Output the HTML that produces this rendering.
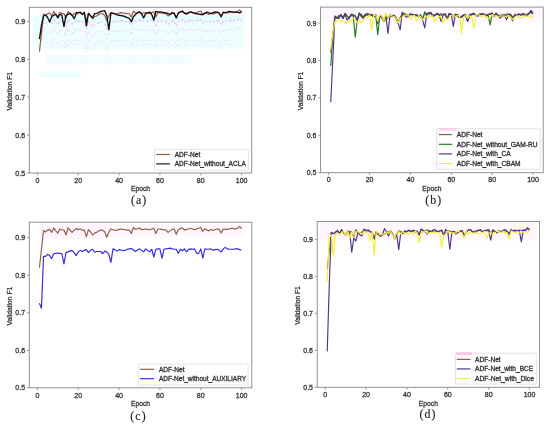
<!DOCTYPE html>
<html><head><meta charset="utf-8"><style>
html,body{margin:0;padding:0;background:#fff;}
body{width:550px;height:427px;overflow:hidden;}
svg{display:block;will-change:transform;filter:blur(0.35px);}
.tk{font-family:"Liberation Sans", sans-serif;font-size:7px;fill:#333333;stroke:#333;stroke-width:0.28px;}
.lb{font-family:"Liberation Sans", sans-serif;font-size:6.75px;fill:#333333;stroke:#333;stroke-width:0.26px;}
.lg{font-family:"Liberation Sans", sans-serif;font-size:6.6px;fill:#333333;stroke:#333;stroke-width:0.3px;}
.cap{font-family:"Liberation Serif", serif;font-size:11.8px;fill:#222;letter-spacing:1.1px;stroke:#222;stroke-width:0.15px;}
</style></head><body>
<svg width="550" height="427" viewBox="0 0 550 427">
<rect width="550" height="427" fill="#fff"/>
<clipPath id="clipa"><rect x="29.3" y="7.3" width="222.4" height="165.7"/></clipPath>
<g>
<rect x="40" y="9" width="205" height="7" fill="#ff00ff" fill-opacity="0.04"/>
<rect x="33" y="16" width="212" height="6" fill="#b8ffff" fill-opacity="0.4"/>
<rect x="33" y="22" width="212" height="27" fill="#c8ffff" fill-opacity="0.3"/>
<rect x="46" y="55" width="146" height="9" fill="#d0ffff" fill-opacity="0.25"/>
<rect x="40" y="71" width="41" height="7" fill="#c8ffff" fill-opacity="0.3"/>
<polyline points="41.48,40.88 43.53,22.29 45.57,23.81 47.61,21.92 49.65,21.16 51.69,24.19 53.74,19.64 55.78,22.67 57.82,24.95 59.86,20.78 61.9,21.54 63.95,21.92 65.99,26.85 68.03,19.64 70.07,21.92 72.11,24.19 74.16,21.92 76.2,20.4 78.24,21.16 80.28,20.78 82.32,21.92 84.37,21.92 86.41,28.74 88.45,21.54 90.49,23.81 92.53,26.85 94.58,24.95 96.62,24.19 98.66,22.67 100.7,21.92 102.74,21.92 104.79,23.81 106.83,29.12 108.87,23.81 110.91,20.78 112.95,21.54 115,22.29 117.04,21.92 119.08,21.16 121.12,20.78 123.16,21.16 125.21,21.54 127.25,21.92 129.29,21.92 131.33,25.33 133.37,19.26 135.42,21.16 137.46,20.78 139.5,19.64 141.54,21.54 143.58,21.16 145.63,20.78 147.67,21.16 149.71,21.54 151.75,20.78 153.79,20.02 155.84,25.33 157.88,20.78 159.92,20.78 161.96,21.16 164,21.54 166.05,21.92 168.09,24.19 170.13,22.67 172.17,21.16 174.21,20.78 176.26,26.09 178.3,21.54 180.34,20.4 182.38,19.64 184.42,21.92 186.47,21.16 188.51,20.78 190.55,20.02 192.59,20.78 194.63,21.54 196.68,20.78 198.72,20.02 200.76,19.26 202.8,23.05 204.84,20.78 206.89,21.92 208.93,22.67 210.97,21.16 213.01,22.29 215.05,21.54 217.1,20.78 219.14,21.16 221.18,24.95 223.22,20.78 225.26,21.16 227.31,21.16 229.35,20.78 231.39,20.02 233.43,20.4 235.47,20.78 237.52,20.02 239.56,18.12 241.6,20.4" fill="none" stroke="#ff6cf0" stroke-opacity="0.45" stroke-width="1.3" stroke-dasharray="3 1.5 2 2"/>
<polyline points="49.65,30.46 51.69,33.49 53.74,28.94 55.78,31.97 57.82,34.25 59.86,30.08 61.9,30.84 63.95,31.22 65.99,36.15 68.03,28.94 70.07,31.22 72.11,33.49 74.16,31.22 76.2,29.7 78.24,30.46 80.28,30.08 82.32,31.22 84.37,31.22 86.41,38.04 88.45,30.84 90.49,33.11 92.53,36.15 94.58,34.25 96.62,33.49 98.66,31.97 100.7,31.22 102.74,31.22 104.79,33.11 106.83,38.42 108.87,33.11 110.91,30.08 112.95,30.84 115,31.59 117.04,31.22 119.08,30.46 121.12,30.08 123.16,30.46 125.21,30.84 127.25,31.22 129.29,31.22 131.33,34.63 133.37,28.56 135.42,30.46 137.46,30.08 139.5,28.94 141.54,30.84 143.58,30.46 145.63,30.08 147.67,30.46 149.71,30.84 151.75,30.08 153.79,29.32 155.84,34.63 157.88,30.08 159.92,30.08 161.96,30.46 164,30.84 166.05,31.22 168.09,33.49 170.13,31.97 172.17,30.46 174.21,30.08 176.26,35.39 178.3,30.84 180.34,29.7 182.38,28.94 184.42,31.22 186.47,30.46 188.51,30.08 190.55,29.32 192.59,30.08 194.63,30.84 196.68,30.08 198.72,29.32 200.76,28.56 202.8,32.35 204.84,30.08 206.89,31.22 208.93,31.97 210.97,30.46 213.01,31.59 215.05,30.84 217.1,30.08 219.14,30.46 221.18,34.25 223.22,30.08 225.26,30.46 227.31,30.46 229.35,30.08 231.39,29.32 233.43,29.7 235.47,30.08 237.52,29.32 239.56,27.42 241.6,29.7" fill="none" stroke="#ff80f0" stroke-opacity="0.35" stroke-width="1.1" stroke-dasharray="3 1.5 2 2"/>
<polyline points="45.57,43.11 47.61,41.22 49.65,40.46 51.69,43.49 53.74,38.94 55.78,41.97 57.82,44.25 59.86,40.08 61.9,40.84 63.95,41.22 65.99,46.15 68.03,38.94 70.07,41.22 72.11,43.49 74.16,41.22 76.2,39.7 78.24,40.46 80.28,40.08 82.32,41.22 84.37,41.22 86.41,48.04 88.45,40.84 90.49,43.11 92.53,46.15 94.58,44.25 96.62,43.49 98.66,41.97 100.7,41.22 102.74,41.22 104.79,43.11 106.83,48.42 108.87,43.11 110.91,40.08 112.95,40.84 115,41.59 117.04,41.22 119.08,40.46 121.12,40.08 123.16,40.46 125.21,40.84 127.25,41.22 129.29,41.22 131.33,44.63 133.37,38.56 135.42,40.46 137.46,40.08 139.5,38.94 141.54,40.84 143.58,40.46 145.63,40.08 147.67,40.46 149.71,40.84 151.75,40.08 153.79,39.32 155.84,44.63 157.88,40.08 159.92,40.08 161.96,40.46 164,40.84 166.05,41.22 168.09,43.49 170.13,41.97 172.17,40.46 174.21,40.08 176.26,45.39 178.3,40.84 180.34,39.7 182.38,38.94 184.42,41.22 186.47,40.46 188.51,40.08 190.55,39.32 192.59,40.08 194.63,40.84 196.68,40.08 198.72,39.32 200.76,38.56 202.8,42.35 204.84,40.08 206.89,41.22 208.93,41.97 210.97,40.46 213.01,41.59 215.05,40.84 217.1,40.08 219.14,40.46 221.18,44.25 223.22,40.08 225.26,40.46 227.31,40.46 229.35,40.08 231.39,39.32 233.43,39.7 235.47,40.08 237.52,39.32" fill="none" stroke="#ff8cff" stroke-opacity="0.28" stroke-width="1.1" stroke-dasharray="3 1.5 2 2"/>
<polyline points="45.57,47.61 47.61,45.72 49.65,44.96 51.69,47.99 53.74,43.44 55.78,46.47 57.82,48.75 59.86,44.58 61.9,45.34 63.95,45.72 65.99,50.65 68.03,43.44 70.07,45.72 72.11,47.99 74.16,45.72 76.2,44.2 78.24,44.96 80.28,44.58 82.32,45.72 84.37,45.72 86.41,52.54 88.45,45.34 90.49,47.61 92.53,50.65 94.58,48.75 96.62,47.99 98.66,46.47 100.7,45.72 102.74,45.72 104.79,47.61 106.83,52.92 108.87,47.61 110.91,44.58 112.95,45.34 115,46.09 117.04,45.72 119.08,44.96 121.12,44.58 123.16,44.96 125.21,45.34 127.25,45.72 129.29,45.72 131.33,49.13 133.37,43.06 135.42,44.96 137.46,44.58 139.5,43.44 141.54,45.34 143.58,44.96 145.63,44.58 147.67,44.96 149.71,45.34 151.75,44.58 153.79,43.82 155.84,49.13 157.88,44.58 159.92,44.58 161.96,44.96 164,45.34 166.05,45.72 168.09,47.99 170.13,46.47 172.17,44.96 174.21,44.58 176.26,49.89 178.3,45.34 180.34,44.2 182.38,43.44 184.42,45.72 186.47,44.96 188.51,44.58 190.55,43.82 192.59,44.58 194.63,45.34 196.68,44.58 198.72,43.82 200.76,43.06 202.8,46.85 204.84,44.58 206.89,45.72 208.93,46.47 210.97,44.96 213.01,46.09 215.05,45.34 217.1,44.58 219.14,44.96 221.18,48.75 223.22,44.58 225.26,44.96 227.31,44.96 229.35,44.58 231.39,43.82 233.43,44.2 235.47,44.58 237.52,43.82" fill="none" stroke="#ff9cff" stroke-opacity="0.2" stroke-width="1.0" stroke-dasharray="3 1.5 2 2"/>
<polyline points="47.61,59.22 49.65,58.46 51.69,61.49 53.74,56.94 55.78,59.97 57.82,62.25 59.86,58.08 61.9,58.84 63.95,59.22 65.99,64.15 68.03,56.94 70.07,59.22 72.11,61.49 74.16,59.22 76.2,57.7 78.24,58.46 80.28,58.08 82.32,59.22 84.37,59.22 86.41,66.04 88.45,58.84 90.49,61.11 92.53,64.15 94.58,62.25 96.62,61.49 98.66,59.97 100.7,59.22 102.74,59.22 104.79,61.11 106.83,66.42 108.87,61.11 110.91,58.08 112.95,58.84 115,59.59 117.04,59.22 119.08,58.46 121.12,58.08 123.16,58.46 125.21,58.84 127.25,59.22 129.29,59.22 131.33,62.63 133.37,56.56 135.42,58.46 137.46,58.08 139.5,56.94 141.54,58.84 143.58,58.46 145.63,58.08 147.67,58.46 149.71,58.84 151.75,58.08 153.79,57.32 155.84,62.63 157.88,58.08 159.92,58.08 161.96,58.46 164,58.84 166.05,59.22 168.09,61.49 170.13,59.97 172.17,58.46 174.21,58.08 176.26,63.39 178.3,58.84 180.34,57.7 182.38,56.94 184.42,59.22 186.47,58.46 188.51,58.08 190.55,57.32" fill="none" stroke="#ffa8ff" stroke-opacity="0.22" stroke-width="1.0" stroke-dasharray="3 1.5 2 2"/>
</g>
<polyline clip-path="url(#clipa)" points="39.44,51.64 41.48,32.68 43.53,14.09 45.57,15.61 47.61,13.72 49.65,12.96 51.69,15.99 53.74,11.44 55.78,14.47 57.82,16.75 59.86,12.58 61.9,13.34 63.95,13.72 65.99,18.65 68.03,11.44 70.07,13.72 72.11,15.99 74.16,13.72 76.2,12.2 78.24,12.96 80.28,12.58 82.32,13.72 84.37,13.72 86.41,20.54 88.45,13.34 90.49,15.61 92.53,18.65 94.58,16.75 96.62,15.99 98.66,14.47 100.7,13.72 102.74,13.72 104.79,15.61 106.83,20.92 108.87,15.61 110.91,12.58 112.95,13.34 115,14.09 117.04,13.72 119.08,12.96 121.12,12.58 123.16,12.96 125.21,13.34 127.25,13.72 129.29,13.72 131.33,17.13 133.37,11.06 135.42,12.96 137.46,12.58 139.5,11.44 141.54,13.34 143.58,12.96 145.63,12.58 147.67,12.96 149.71,13.34 151.75,12.58 153.79,11.82 155.84,17.13 157.88,12.58 159.92,12.58 161.96,12.96 164,13.34 166.05,13.72 168.09,15.99 170.13,14.47 172.17,12.96 174.21,12.58 176.26,17.89 178.3,13.34 180.34,12.2 182.38,11.44 184.42,13.72 186.47,12.96 188.51,12.58 190.55,11.82 192.59,12.58 194.63,13.34 196.68,12.58 198.72,11.82 200.76,11.06 202.8,14.85 204.84,12.58 206.89,13.72 208.93,14.47 210.97,12.96 213.01,14.09 215.05,13.34 217.1,12.58 219.14,12.96 221.18,16.75 223.22,12.58 225.26,12.96 227.31,12.96 229.35,12.58 231.39,11.82 233.43,12.2 235.47,12.58 237.52,11.82 239.56,9.92 241.6,12.2" fill="none" stroke="#8c5c3e" stroke-width="1.15" stroke-linejoin="round"/>
<polyline clip-path="url(#clipa)" points="39.44,39.12 41.48,25.09 43.53,15.99 45.57,14.85 47.61,17.51 49.65,22.06 51.69,16.75 53.74,15.23 55.78,14.47 57.82,17.89 59.86,14.47 61.9,15.23 63.95,26.61 65.99,15.23 68.03,14.47 70.07,13.34 72.11,15.23 74.16,18.65 76.2,13.72 78.24,12.58 80.28,12.2 82.32,14.47 84.37,12.2 86.41,25.85 88.45,13.34 90.49,15.61 92.53,17.89 94.58,13.72 96.62,13.34 98.66,12.58 100.7,11.44 102.74,11.06 104.79,10.68 106.83,15.99 108.87,29.64 110.91,12.96 112.95,13.34 115,13.72 117.04,14.85 119.08,15.23 121.12,15.61 123.16,15.99 125.21,16.75 127.25,17.51 129.29,18.27 131.33,21.68 133.37,16.75 135.42,14.47 137.46,12.96 139.5,12.2 141.54,13.72 143.58,17.89 145.63,13.72 147.67,12.96 149.71,12.2 151.75,14.47 153.79,20.16 155.84,11.44 157.88,11.82 159.92,11.82 161.96,12.2 164,12.58 166.05,12.96 168.09,13.72 170.13,14.47 172.17,12.58 174.21,13.72 176.26,17.89 178.3,12.96 180.34,11.82 182.38,11.06 184.42,12.96 186.47,14.09 188.51,12.96 190.55,11.82 192.59,12.58 194.63,13.34 196.68,13.72 198.72,14.09 200.76,14.47 202.8,14.47 204.84,13.34 206.89,12.2 208.93,12.96 210.97,13.72 213.01,12.58 215.05,11.82 217.1,12.2 219.14,12.96 221.18,16.75 223.22,12.2 225.26,12.58 227.31,12.2 229.35,11.44 231.39,11.82 233.43,12.2 235.47,11.82 237.52,12.2 239.56,12.96 241.6,11.82" fill="none" stroke="#111111" stroke-width="1.35" stroke-linejoin="round"/>
<rect x="29.3" y="7.3" width="222.4" height="165.7" fill="none" stroke="#858585" stroke-width="0.9"/>
<line x1="37.4" y1="173" x2="37.4" y2="175.4" stroke="#858585" stroke-width="0.8"/>
<text x="37.4" y="182.7" text-anchor="middle" class="tk">0</text>
<line x1="78.24" y1="173" x2="78.24" y2="175.4" stroke="#858585" stroke-width="0.8"/>
<text x="78.24" y="182.7" text-anchor="middle" class="tk">20</text>
<line x1="119.08" y1="173" x2="119.08" y2="175.4" stroke="#858585" stroke-width="0.8"/>
<text x="119.08" y="182.7" text-anchor="middle" class="tk">40</text>
<line x1="159.92" y1="173" x2="159.92" y2="175.4" stroke="#858585" stroke-width="0.8"/>
<text x="159.92" y="182.7" text-anchor="middle" class="tk">60</text>
<line x1="200.76" y1="173" x2="200.76" y2="175.4" stroke="#858585" stroke-width="0.8"/>
<text x="200.76" y="182.7" text-anchor="middle" class="tk">80</text>
<line x1="241.6" y1="173" x2="241.6" y2="175.4" stroke="#858585" stroke-width="0.8"/>
<text x="241.6" y="182.7" text-anchor="middle" class="tk">100</text>
<line x1="26.9" y1="173" x2="29.3" y2="173" stroke="#858585" stroke-width="0.8"/>
<text x="25.1" y="175.5" text-anchor="end" class="tk">0.5</text>
<line x1="26.9" y1="135.08" x2="29.3" y2="135.08" stroke="#858585" stroke-width="0.8"/>
<text x="25.1" y="137.58" text-anchor="end" class="tk">0.6</text>
<line x1="26.9" y1="97.15" x2="29.3" y2="97.15" stroke="#858585" stroke-width="0.8"/>
<text x="25.1" y="99.65" text-anchor="end" class="tk">0.7</text>
<line x1="26.9" y1="59.22" x2="29.3" y2="59.22" stroke="#858585" stroke-width="0.8"/>
<text x="25.1" y="61.72" text-anchor="end" class="tk">0.8</text>
<line x1="26.9" y1="21.3" x2="29.3" y2="21.3" stroke="#858585" stroke-width="0.8"/>
<text x="25.1" y="23.8" text-anchor="end" class="tk">0.9</text>
<text x="140.5" y="191.4" text-anchor="middle" class="lb">Epoch</text>
<text transform="translate(11.6,91.25) rotate(-90)" text-anchor="middle" class="lb" textLength="38.6" lengthAdjust="spacingAndGlyphs">Validation F1</text>
<rect x="154.4" y="149.3" width="94" height="21" rx="1" fill="#ffffff" fill-opacity="0.8" stroke="#d0d0d0" stroke-width="0.6"/>
<line x1="156.2" y1="154.5" x2="169.8" y2="154.5" stroke="#8c5c3e" stroke-width="1.15"/>
<text x="174.7" y="156.8" class="lg">ADF-Net</text>
<line x1="156.2" y1="163.9" x2="169.8" y2="163.9" stroke="#111111" stroke-width="1.15"/>
<text x="174.7" y="166.2" class="lg">ADF-Net_without_ACLA</text>
<text x="139.2" y="203.9" text-anchor="middle" class="cap">(a)</text>
<clipPath id="clipb"><rect x="320.6" y="7.1" width="222.6" height="165.6"/></clipPath>
<rect x="322" y="8" width="219" height="14" fill="#ff00ff" fill-opacity="0.03"/>
<polyline clip-path="url(#clipb)" points="330.74,52.94 332.79,34.23 334.83,15.89 336.87,17.39 338.91,15.51 340.96,14.77 343,17.76 345.04,13.27 347.09,16.26 349.13,18.51 351.17,14.39 353.22,15.14 355.26,15.51 357.3,20.38 359.34,13.27 361.39,15.51 363.43,17.76 365.47,15.51 367.52,14.02 369.56,14.77 371.6,14.39 373.65,15.51 375.69,15.51 377.73,22.25 379.77,15.14 381.82,17.39 383.86,20.38 385.9,18.51 387.95,17.76 389.99,16.26 392.03,15.51 394.08,15.51 396.12,17.39 398.16,22.63 400.2,17.39 402.25,14.39 404.29,15.14 406.33,15.89 408.38,15.51 410.42,14.77 412.46,14.39 414.51,14.77 416.55,15.14 418.59,15.51 420.63,15.51 422.68,18.88 424.72,12.9 426.76,14.77 428.81,14.39 430.85,13.27 432.89,15.14 434.94,14.77 436.98,14.39 439.02,14.77 441.06,15.14 443.11,14.39 445.15,13.64 447.19,18.88 449.24,14.39 451.28,14.39 453.32,14.77 455.37,15.14 457.41,15.51 459.45,17.76 461.5,16.26 463.54,14.77 465.58,14.39 467.62,19.63 469.67,15.14 471.71,14.02 473.75,13.27 475.8,15.51 477.84,14.77 479.88,14.39 481.93,13.64 483.97,14.39 486.01,15.14 488.05,14.39 490.1,13.64 492.14,12.9 494.18,16.64 496.23,14.39 498.27,15.51 500.31,16.26 502.36,14.77 504.4,15.89 506.44,15.14 508.48,14.39 510.53,14.77 512.57,18.51 514.61,14.39 516.66,14.77 518.7,14.77 520.74,14.39 522.78,13.64 524.83,14.02 526.87,14.39 528.91,13.64 530.96,11.77 533,14.02" fill="none" stroke="#8c5c3e" stroke-width="1.15" stroke-linejoin="round"/>
<polyline clip-path="url(#clipb)" points="330.74,66.04 332.79,37.22 334.83,17.01 336.87,17.49 338.91,18.51 340.96,14.5 343,18.7 345.04,13.23 347.09,15.87 349.13,17.63 351.17,15.61 353.22,15.73 355.26,37.22 357.3,19.45 359.34,12.69 361.39,16.89 363.43,16.32 365.47,14.12 367.52,13.56 369.56,14.42 371.6,15.42 373.65,16.97 375.69,15.43 377.73,34.6 379.77,16.07 381.82,18.16 383.86,21.79 385.9,18.62 387.95,17.94 389.99,15.24 392.03,15.46 394.08,15.09 396.12,17.39 398.16,22.14 400.2,17.51 402.25,15.06 404.29,13.65 406.33,14.41 408.38,14.5 410.42,14.14 412.46,14.95 414.51,15.58 416.55,15.77 418.59,16.8 420.63,14.72 422.68,19.18 424.72,11.86 426.76,15.11 428.81,13.02 430.85,12.23 432.89,16.64 434.94,15.64 436.98,13.16 439.02,14.86 441.06,13.7 443.11,14.7 445.15,14.92 447.19,18.5 449.24,13.56 451.28,15.08 453.32,16 455.37,15.64 457.41,14.13 459.45,16.99 461.5,17.41 463.54,15.53 465.58,15.59 467.62,20.95 469.67,14.25 471.71,14.98 473.75,13.09 475.8,15.67 477.84,15.69 479.88,13.7 481.93,14.75 483.97,13.96 486.01,16.29 488.05,14.63 490.1,24.87 492.14,13.58 494.18,15.23 496.23,13.48 498.27,16.1 500.31,15.11 502.36,15.63 504.4,16.21 506.44,14.08 508.48,13.97 510.53,15.96 512.57,20.75 514.61,15.25 516.66,15.49 518.7,13.95 520.74,14.9 522.78,14.25 524.83,15.3 526.87,15.62 528.91,13.4 530.96,12.54 533,13.71" fill="none" stroke="#1e7a1e" stroke-width="1.15" stroke-linejoin="round"/>
<polyline clip-path="url(#clipb)" points="330.74,102.34 332.79,60.42 334.83,17.39 336.87,18.46 338.91,16.98 340.96,15.14 343,18.44 345.04,14.39 347.09,20.01 349.13,18.21 351.17,14.22 353.22,14.66 355.26,16.58 357.3,20.56 359.34,14.28 361.39,14.3 363.43,19.08 365.47,14.56 367.52,15.29 369.56,14.21 371.6,14.88 373.65,15.8 375.69,14.49 377.73,23.69 379.77,16.46 381.82,16.14 383.86,20.35 385.9,15.51 387.95,33.48 389.99,14.93 392.03,16.68 394.08,15.74 396.12,18.48 398.16,23.19 400.2,29.74 402.25,12.15 404.29,14.55 406.33,17.23 408.38,16.5 410.42,13.82 412.46,14.69 414.51,15.01 416.55,14.85 418.59,15.58 420.63,15.86 422.68,20.29 424.72,27.87 426.76,13.37 428.81,12.97 430.85,12.78 432.89,15.57 434.94,15.18 436.98,13.82 439.02,14.25 441.06,21.5 443.11,15.19 445.15,14.05 447.19,18.85 449.24,13.46 451.28,14.39 453.32,26.37 455.37,14.17 457.41,15.72 459.45,17.7 461.5,17.1 463.54,14.98 465.58,14.73 467.62,21.5 469.67,16.33 471.71,13.87 473.75,14.23 475.8,14.93 477.84,16.15 479.88,15.06 481.93,14.11 483.97,13.98 486.01,16.48 488.05,14.51 490.1,14.52 492.14,13.55 494.18,16.71 496.23,13.02 498.27,15.57 500.31,18.13 502.36,15.76 504.4,14.62 506.44,19.63 508.48,15.32 510.53,14.02 512.57,17.28 514.61,15.87 516.66,15.46 518.7,13.96 520.74,14.87 522.78,14.42 524.83,15.49 526.87,15.77 528.91,13.29 530.96,10.32 533,12.53" fill="none" stroke="#55308a" stroke-width="1.15" stroke-linejoin="round"/>
<polyline clip-path="url(#clipb)" points="330.74,49.2 332.79,33.48 334.83,21.88 336.87,21.13 338.91,20.01 340.96,21.5 343,20.75 345.04,22.25 347.09,23.37 349.13,21.13 351.17,20.38 353.22,18.13 355.26,20.01 357.3,22.25 359.34,21.13 361.39,23 363.43,19.63 365.47,17.1 367.52,17.59 369.56,14.87 371.6,29.74 373.65,15.12 375.69,15.04 377.73,21.34 379.77,14.58 381.82,16.29 383.86,21.29 385.9,12.9 387.95,17.81 389.99,15.31 392.03,16.02 394.08,16.53 396.12,17.89 398.16,22.89 400.2,18.08 402.25,17.7 404.29,15.07 406.33,15.15 408.38,14.45 410.42,19.26 412.46,16.06 414.51,15.33 416.55,21.13 418.59,15.6 420.63,16.48 422.68,20.09 424.72,17.38 426.76,16.18 428.81,17.19 430.85,16.42 432.89,15.87 434.94,21.13 436.98,17.65 439.02,16.3 441.06,17.25 443.11,23 445.15,17.41 447.19,19.38 449.24,17.86 451.28,15.7 453.32,14.57 455.37,16.68 457.41,15.44 459.45,16.14 461.5,33.1 463.54,17.6 465.58,15.12 467.62,18.37 469.67,15.74 471.71,17.54 473.75,27.87 475.8,14.89 477.84,14.82 479.88,15.13 481.93,17.37 483.97,14.94 486.01,16.73 488.05,18.51 490.1,17.62 492.14,14.5 494.18,16.25 496.23,15.43 498.27,17.34 500.31,15.82 502.36,15.96 504.4,15.92 506.44,16.79 508.48,15.41 510.53,16.86 512.57,19.27 514.61,17.52 516.66,15.57 518.7,17.71 520.74,17.29 522.78,17.88 524.83,15.73 526.87,16.05 528.91,16.1 530.96,17.99 533,16.49" fill="none" stroke="#f4f030" stroke-width="1.15" stroke-linejoin="round"/>
<rect x="320.6" y="7.1" width="222.6" height="165.6" fill="none" stroke="#858585" stroke-width="0.9"/>
<line x1="328.7" y1="172.7" x2="328.7" y2="175.1" stroke="#858585" stroke-width="0.8"/>
<text x="328.7" y="182.4" text-anchor="middle" class="tk">0</text>
<line x1="369.56" y1="172.7" x2="369.56" y2="175.1" stroke="#858585" stroke-width="0.8"/>
<text x="369.56" y="182.4" text-anchor="middle" class="tk">20</text>
<line x1="410.42" y1="172.7" x2="410.42" y2="175.1" stroke="#858585" stroke-width="0.8"/>
<text x="410.42" y="182.4" text-anchor="middle" class="tk">40</text>
<line x1="451.28" y1="172.7" x2="451.28" y2="175.1" stroke="#858585" stroke-width="0.8"/>
<text x="451.28" y="182.4" text-anchor="middle" class="tk">60</text>
<line x1="492.14" y1="172.7" x2="492.14" y2="175.1" stroke="#858585" stroke-width="0.8"/>
<text x="492.14" y="182.4" text-anchor="middle" class="tk">80</text>
<line x1="533" y1="172.7" x2="533" y2="175.1" stroke="#858585" stroke-width="0.8"/>
<text x="533" y="182.4" text-anchor="middle" class="tk">100</text>
<line x1="318.2" y1="172.7" x2="320.6" y2="172.7" stroke="#858585" stroke-width="0.8"/>
<text x="316.4" y="175.2" text-anchor="end" class="tk">0.5</text>
<line x1="318.2" y1="135.28" x2="320.6" y2="135.28" stroke="#858585" stroke-width="0.8"/>
<text x="316.4" y="137.78" text-anchor="end" class="tk">0.6</text>
<line x1="318.2" y1="97.85" x2="320.6" y2="97.85" stroke="#858585" stroke-width="0.8"/>
<text x="316.4" y="100.35" text-anchor="end" class="tk">0.7</text>
<line x1="318.2" y1="60.42" x2="320.6" y2="60.42" stroke="#858585" stroke-width="0.8"/>
<text x="316.4" y="62.92" text-anchor="end" class="tk">0.8</text>
<line x1="318.2" y1="23" x2="320.6" y2="23" stroke="#858585" stroke-width="0.8"/>
<text x="316.4" y="25.5" text-anchor="end" class="tk">0.9</text>
<text x="431.9" y="191.1" text-anchor="middle" class="lb">Epoch</text>
<text transform="translate(302.9,91) rotate(-90)" text-anchor="middle" class="lb" textLength="38.6" lengthAdjust="spacingAndGlyphs">Validation F1</text>
<rect x="436.7" y="128.8" width="103.5" height="40.4" rx="1" fill="#ffffff" fill-opacity="0.8" stroke="#d0d0d0" stroke-width="0.6"/>
<line x1="438.8" y1="134.6" x2="452.2" y2="134.6" stroke="#8c5c3e" stroke-width="1.15"/>
<text x="456.8" y="136.9" class="lg">ADF-Net</text>
<line x1="438.8" y1="144.3" x2="452.2" y2="144.3" stroke="#1e7a1e" stroke-width="1.15"/>
<text x="456.8" y="146.6" class="lg">ADF-Net_without_GAM-RU</text>
<line x1="438.8" y1="153.9" x2="452.2" y2="153.9" stroke="#55308a" stroke-width="1.15"/>
<text x="456.8" y="156.2" class="lg">ADF-Net_with_CA</text>
<line x1="438.8" y1="163.5" x2="452.2" y2="163.5" stroke="#f4f030" stroke-width="1.15"/>
<text x="456.8" y="165.8" class="lg">ADF-Net_with_CBAM</text>
<rect x="439" y="128" width="17" height="3" fill="#ff70d8" fill-opacity="0.25"/>
<text x="433.7" y="203.9" text-anchor="middle" class="cap">(b)</text>
<clipPath id="clipc"><rect x="29.3" y="222.2" width="222.5" height="165.6"/></clipPath>
<rect x="40" y="223.5" width="72" height="15.5" fill="#ff00ff" fill-opacity="0.045"/>
<rect x="112" y="223.5" width="134" height="13" fill="#ff00ff" fill-opacity="0.03"/>
<polyline clip-path="url(#clipc)" points="39.44,267.64 41.48,248.87 43.53,230.47 45.57,231.97 47.61,230.09 49.65,229.34 51.69,232.34 53.74,227.84 55.78,230.84 57.82,233.09 59.86,228.96 61.9,229.71 63.95,230.09 65.99,234.97 68.03,227.84 70.07,230.09 72.11,232.34 74.16,230.09 76.2,228.59 78.24,229.34 80.28,228.96 82.32,230.09 84.37,230.09 86.41,236.85 88.45,229.71 90.49,231.97 92.53,234.97 94.58,233.09 96.62,232.34 98.66,230.84 100.7,230.09 102.74,230.09 104.79,231.97 106.83,237.22 108.87,231.97 110.91,228.96 112.95,229.71 115,230.47 117.04,230.09 119.08,229.34 121.12,228.96 123.16,229.34 125.21,229.71 127.25,230.09 129.29,230.09 131.33,233.47 133.37,227.46 135.42,229.34 137.46,228.96 139.5,227.84 141.54,229.71 143.58,229.34 145.63,228.96 147.67,229.34 149.71,229.71 151.75,228.96 153.79,228.21 155.84,233.47 157.88,228.96 159.92,228.96 161.96,229.34 164,229.71 166.05,230.09 168.09,232.34 170.13,230.84 172.17,229.34 174.21,228.96 176.26,234.22 178.3,229.71 180.34,228.59 182.38,227.84 184.42,230.09 186.47,229.34 188.51,228.96 190.55,228.21 192.59,228.96 194.63,229.71 196.68,228.96 198.72,228.21 200.76,227.46 202.8,231.22 204.84,228.96 206.89,230.09 208.93,230.84 210.97,229.34 213.01,230.47 215.05,229.71 217.1,228.96 219.14,229.34 221.18,233.09 223.22,228.96 225.26,229.34 227.31,229.34 229.35,228.96 231.39,228.21 233.43,228.59 235.47,228.96 237.52,228.21 239.56,226.33 241.6,228.59" fill="none" stroke="#8c5c3e" stroke-width="1.15" stroke-linejoin="round"/>
<polyline clip-path="url(#clipc)" points="39.44,303.31 41.48,308.19 43.53,256.38 45.57,256.38 47.61,254.5 49.65,255.62 51.69,258.63 53.74,253.75 55.78,253.37 57.82,253 59.86,253.37 61.9,253.75 63.95,263.88 65.99,252.62 68.03,251.87 70.07,251.12 72.11,250.37 74.16,252.62 76.2,255.62 78.24,251.87 80.28,250.37 82.32,251.49 84.37,250.37 86.41,249.62 88.45,252.62 90.49,250.37 92.53,249.24 94.58,252.24 96.62,251.49 98.66,251.49 100.7,251.49 102.74,253.75 104.79,251.12 106.83,251.87 108.87,254.5 110.91,262.38 112.95,248.87 115,249.62 117.04,251.12 119.08,249.62 121.12,249.99 123.16,250.74 125.21,250.37 127.25,249.24 129.29,248.87 131.33,248.49 133.37,249.99 135.42,251.49 137.46,249.99 139.5,248.87 141.54,250.37 143.58,251.87 145.63,248.87 147.67,250.37 149.71,251.87 151.75,249.24 153.79,257.13 155.84,249.24 157.88,248.87 159.92,248.87 161.96,258.25 164,249.24 166.05,248.87 168.09,248.49 170.13,248.11 172.17,248.87 174.21,249.24 176.26,249.24 178.3,253.37 180.34,249.24 182.38,250.74 184.42,248.87 186.47,251.87 188.51,249.62 190.55,248.87 192.59,249.24 194.63,248.87 196.68,253.37 198.72,253.37 200.76,248.87 202.8,258.25 204.84,248.87 206.89,249.24 208.93,249.24 210.97,248.87 213.01,250.37 215.05,249.62 217.1,249.24 219.14,250.37 221.18,251.87 223.22,248.87 225.26,247.36 227.31,248.87 229.35,249.24 231.39,249.24 233.43,249.24 235.47,248.87 237.52,248.87 239.56,249.62 241.6,249.99" fill="none" stroke="#3328e0" stroke-width="1.15" stroke-linejoin="round"/>
<rect x="29.3" y="222.2" width="222.5" height="165.6" fill="none" stroke="#858585" stroke-width="0.9"/>
<line x1="37.4" y1="387.8" x2="37.4" y2="390.2" stroke="#858585" stroke-width="0.8"/>
<text x="37.4" y="397.5" text-anchor="middle" class="tk">0</text>
<line x1="78.24" y1="387.8" x2="78.24" y2="390.2" stroke="#858585" stroke-width="0.8"/>
<text x="78.24" y="397.5" text-anchor="middle" class="tk">20</text>
<line x1="119.08" y1="387.8" x2="119.08" y2="390.2" stroke="#858585" stroke-width="0.8"/>
<text x="119.08" y="397.5" text-anchor="middle" class="tk">40</text>
<line x1="159.92" y1="387.8" x2="159.92" y2="390.2" stroke="#858585" stroke-width="0.8"/>
<text x="159.92" y="397.5" text-anchor="middle" class="tk">60</text>
<line x1="200.76" y1="387.8" x2="200.76" y2="390.2" stroke="#858585" stroke-width="0.8"/>
<text x="200.76" y="397.5" text-anchor="middle" class="tk">80</text>
<line x1="241.6" y1="387.8" x2="241.6" y2="390.2" stroke="#858585" stroke-width="0.8"/>
<text x="241.6" y="397.5" text-anchor="middle" class="tk">100</text>
<line x1="26.9" y1="387.8" x2="29.3" y2="387.8" stroke="#858585" stroke-width="0.8"/>
<text x="25.1" y="390.3" text-anchor="end" class="tk">0.5</text>
<line x1="26.9" y1="350.25" x2="29.3" y2="350.25" stroke="#858585" stroke-width="0.8"/>
<text x="25.1" y="352.75" text-anchor="end" class="tk">0.6</text>
<line x1="26.9" y1="312.7" x2="29.3" y2="312.7" stroke="#858585" stroke-width="0.8"/>
<text x="25.1" y="315.2" text-anchor="end" class="tk">0.7</text>
<line x1="26.9" y1="275.15" x2="29.3" y2="275.15" stroke="#858585" stroke-width="0.8"/>
<text x="25.1" y="277.65" text-anchor="end" class="tk">0.8</text>
<line x1="26.9" y1="237.6" x2="29.3" y2="237.6" stroke="#858585" stroke-width="0.8"/>
<text x="25.1" y="240.1" text-anchor="end" class="tk">0.9</text>
<text x="140.55" y="406.2" text-anchor="middle" class="lb">Epoch</text>
<text transform="translate(11.6,306.1) rotate(-90)" text-anchor="middle" class="lb" textLength="38.6" lengthAdjust="spacingAndGlyphs">Validation F1</text>
<rect x="138.3" y="364" width="109.8" height="21.1" rx="1" fill="#ffffff" fill-opacity="0.8" stroke="#d0d0d0" stroke-width="0.6"/>
<line x1="140.1" y1="369.3" x2="154" y2="369.3" stroke="#8c5c3e" stroke-width="1.15"/>
<text x="158.9" y="371.6" class="lg">ADF-Net</text>
<line x1="140.1" y1="378.7" x2="154" y2="378.7" stroke="#3328e0" stroke-width="1.15"/>
<text x="158.9" y="381" class="lg" textLength="87.2" lengthAdjust="spacingAndGlyphs">ADF-Net_without_AUXILIARY</text>
<text x="138.5" y="420.2" text-anchor="middle" class="cap">(c)</text>
<clipPath id="clipd"><rect x="317.2" y="221.5" width="222.4" height="165.8"/></clipPath>
<rect x="320" y="222.5" width="217" height="18" fill="#ff00ff" fill-opacity="0.03"/>
<polyline clip-path="url(#clipd)" points="327.24,268.9 329.29,250.4 331.33,232.27 333.37,233.75 335.41,231.9 337.46,231.16 339.5,234.12 341.54,229.68 343.59,232.64 345.63,234.86 347.67,230.79 349.72,231.53 351.76,231.9 353.8,236.71 355.84,229.68 357.89,231.9 359.93,234.12 361.97,231.9 364.02,230.42 366.06,231.16 368.1,230.79 370.15,231.9 372.19,231.9 374.23,238.56 376.27,231.53 378.32,233.75 380.36,236.71 382.4,234.86 384.45,234.12 386.49,232.64 388.53,231.9 390.58,231.9 392.62,233.75 394.66,238.93 396.7,233.75 398.75,230.79 400.79,231.53 402.83,232.27 404.88,231.9 406.92,231.16 408.96,230.79 411.01,231.16 413.05,231.53 415.09,231.9 417.13,231.9 419.18,235.23 421.22,229.31 423.26,231.16 425.31,230.79 427.35,229.68 429.39,231.53 431.44,231.16 433.48,230.79 435.52,231.16 437.56,231.53 439.61,230.79 441.65,230.05 443.69,235.23 445.74,230.79 447.78,230.79 449.82,231.16 451.87,231.53 453.91,231.9 455.95,234.12 458,232.64 460.04,231.16 462.08,230.79 464.12,235.97 466.17,231.53 468.21,230.42 470.25,229.68 472.3,231.9 474.34,231.16 476.38,230.79 478.43,230.05 480.47,230.79 482.51,231.53 484.55,230.79 486.6,230.05 488.64,229.31 490.68,233.01 492.73,230.79 494.77,231.9 496.81,232.64 498.86,231.16 500.9,232.27 502.94,231.53 504.98,230.79 507.03,231.16 509.07,234.86 511.11,230.79 513.16,231.16 515.2,231.16 517.24,230.79 519.28,230.05 521.33,230.42 523.37,230.79 525.41,230.05 527.46,228.2 529.5,230.42" fill="none" stroke="#8c5c3e" stroke-width="1.15" stroke-linejoin="round"/>
<polyline clip-path="url(#clipd)" points="327.24,351.41 329.29,283.7 331.33,232.64 333.37,233.81 335.41,232.74 337.46,230.29 339.5,233.21 341.54,229.64 343.59,232.62 345.63,235.64 347.67,232.26 349.72,231.91 351.76,252.25 353.8,237.98 355.84,241.15 357.89,232.69 359.93,234.91 361.97,235.97 364.02,228.95 366.06,230.45 368.1,229.68 370.15,231.56 372.19,233.28 374.23,239.07 376.27,231.54 378.32,234.89 380.36,235.37 382.4,235.25 384.45,228.57 386.49,231.7 388.53,235.97 390.58,230.63 392.62,233.89 394.66,238.78 396.7,234.21 398.75,249.66 400.79,232.46 402.83,233.64 404.88,230.82 406.92,231.94 408.96,229.96 411.01,232.02 413.05,230.14 415.09,230.73 417.13,231.15 419.18,234.45 421.22,229.07 423.26,230.48 425.31,231.91 427.35,234.12 429.39,230.56 431.44,232.04 433.48,229.54 435.52,230.01 437.56,231.8 439.61,231.19 441.65,230.19 443.69,235.57 445.74,229.33 447.78,231.13 449.82,249.29 451.87,232.73 453.91,231.25 455.95,232.66 458,232.65 460.04,231.19 462.08,230.64 464.12,235.24 466.17,232.35 468.21,230.1 470.25,229.51 472.3,231.54 474.34,232.11 476.38,231.77 478.43,230.5 480.47,229.53 482.51,231.98 484.55,230.5 486.6,230.62 488.64,230.48 490.68,240.04 492.73,229.86 494.77,231.08 496.81,233.01 498.86,230.62 500.9,231.75 502.94,230.35 504.98,229.43 507.03,231.44 509.07,233.41 511.11,229.42 513.16,230.89 515.2,230.03 517.24,230.82 519.28,230.42 521.33,241.89 523.37,229.68 525.41,231.05 527.46,227.83 529.5,229.52" fill="none" stroke="#55308a" stroke-width="1.15" stroke-linejoin="round"/>
<polyline clip-path="url(#clipd)" points="327.24,281.85 329.29,237.45 331.33,234.86 333.37,256.69 335.41,233.75 337.46,234.04 339.5,233.56 341.54,233.21 343.59,231.2 345.63,235.85 347.67,230.94 349.72,238.93 351.76,232.27 353.8,235.11 355.84,231.95 357.89,231.07 359.93,233.35 361.97,234.31 364.02,231.23 366.06,232.31 368.1,233.34 370.15,240.78 372.19,231.35 374.23,254.84 376.27,231.02 378.32,232.74 380.36,235 382.4,234.61 384.45,233.39 386.49,232.22 388.53,233.53 390.58,230.95 392.62,234.44 394.66,238.93 396.7,232.07 398.75,232.08 400.79,233.96 402.83,231.44 404.88,234.12 406.92,233.81 408.96,234.31 411.01,232.52 413.05,234.37 415.09,231.07 417.13,232.62 419.18,242.63 421.22,232.98 423.26,232.04 425.31,231.1 427.35,233.35 429.39,233.11 431.44,232.33 433.48,233.39 435.52,232.29 437.56,232.48 439.61,232.89 441.65,247.07 443.69,235.13 445.74,234.16 447.78,230.8 449.82,233.17 451.87,232.89 453.91,233 455.95,232.53 458,230.97 460.04,232.6 462.08,233.01 464.12,238.19 466.17,231.18 468.21,233.86 470.25,232.47 472.3,233.2 474.34,233.01 476.38,233.17 478.43,233.78 480.47,234.35 482.51,232.51 484.55,231.55 486.6,238.19 488.64,233.74 490.68,232.29 492.73,234.3 494.77,232.97 496.81,231.43 498.86,231.08 500.9,232.79 502.94,231.36 504.98,232.65 507.03,232.55 509.07,238.93 511.11,230.82 513.16,231.74 515.2,232.74 517.24,231.8 519.28,232.11 521.33,233.18 523.37,231.59 525.41,231.46 527.46,232.24 529.5,231" fill="none" stroke="#f4f030" stroke-width="1.15" stroke-linejoin="round"/>
<rect x="317.2" y="221.5" width="222.4" height="165.8" fill="none" stroke="#858585" stroke-width="0.9"/>
<line x1="325.2" y1="387.3" x2="325.2" y2="389.7" stroke="#858585" stroke-width="0.8"/>
<text x="325.2" y="397" text-anchor="middle" class="tk">0</text>
<line x1="366.06" y1="387.3" x2="366.06" y2="389.7" stroke="#858585" stroke-width="0.8"/>
<text x="366.06" y="397" text-anchor="middle" class="tk">20</text>
<line x1="406.92" y1="387.3" x2="406.92" y2="389.7" stroke="#858585" stroke-width="0.8"/>
<text x="406.92" y="397" text-anchor="middle" class="tk">40</text>
<line x1="447.78" y1="387.3" x2="447.78" y2="389.7" stroke="#858585" stroke-width="0.8"/>
<text x="447.78" y="397" text-anchor="middle" class="tk">60</text>
<line x1="488.64" y1="387.3" x2="488.64" y2="389.7" stroke="#858585" stroke-width="0.8"/>
<text x="488.64" y="397" text-anchor="middle" class="tk">80</text>
<line x1="529.5" y1="387.3" x2="529.5" y2="389.7" stroke="#858585" stroke-width="0.8"/>
<text x="529.5" y="397" text-anchor="middle" class="tk">100</text>
<line x1="314.8" y1="387.3" x2="317.2" y2="387.3" stroke="#858585" stroke-width="0.8"/>
<text x="313" y="389.8" text-anchor="end" class="tk">0.5</text>
<line x1="314.8" y1="350.3" x2="317.2" y2="350.3" stroke="#858585" stroke-width="0.8"/>
<text x="313" y="352.8" text-anchor="end" class="tk">0.6</text>
<line x1="314.8" y1="313.3" x2="317.2" y2="313.3" stroke="#858585" stroke-width="0.8"/>
<text x="313" y="315.8" text-anchor="end" class="tk">0.7</text>
<line x1="314.8" y1="276.3" x2="317.2" y2="276.3" stroke="#858585" stroke-width="0.8"/>
<text x="313" y="278.8" text-anchor="end" class="tk">0.8</text>
<line x1="314.8" y1="239.3" x2="317.2" y2="239.3" stroke="#858585" stroke-width="0.8"/>
<text x="313" y="241.8" text-anchor="end" class="tk">0.9</text>
<text x="428.4" y="405.7" text-anchor="middle" class="lb">Epoch</text>
<text transform="translate(299.5,305.5) rotate(-90)" text-anchor="middle" class="lb" textLength="38.6" lengthAdjust="spacingAndGlyphs">Validation F1</text>
<rect x="455.5" y="353.2" width="81.3" height="30.9" rx="1" fill="#ffffff" fill-opacity="0.8" stroke="#d0d0d0" stroke-width="0.6"/>
<line x1="456.8" y1="359.4" x2="470.5" y2="359.4" stroke="#8c5c3e" stroke-width="1.15"/>
<text x="475" y="361.7" class="lg">ADF-Net</text>
<line x1="456.8" y1="368.9" x2="470.5" y2="368.9" stroke="#55308a" stroke-width="1.15"/>
<text x="475" y="371.2" class="lg">ADF-Net_with_BCE</text>
<line x1="456.8" y1="378.4" x2="470.5" y2="378.4" stroke="#f4f030" stroke-width="1.15"/>
<text x="475" y="380.7" class="lg" textLength="58.9" lengthAdjust="spacingAndGlyphs">ADF-Net_with_Dice</text>
<rect x="456" y="352.3" width="16" height="2.8" fill="#ff70d8" fill-opacity="0.35"/>
<rect x="456" y="355" width="16" height="7" fill="#ff70d8" fill-opacity="0.06"/>
<text x="428" y="417.7" text-anchor="middle" class="cap">(d)</text>
</svg>
</body></html>
